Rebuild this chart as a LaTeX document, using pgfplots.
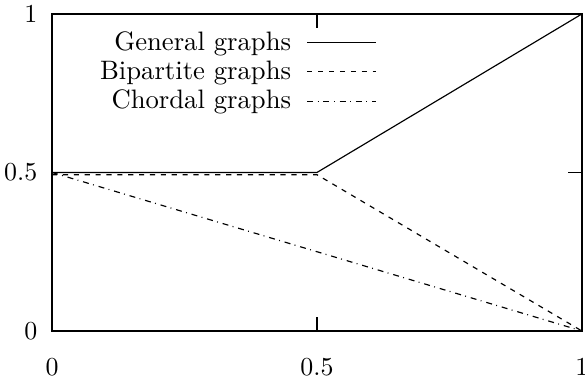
\documentclass[border=0pt]{standalone}
\usepackage{pgfplots}
\pgfplotsset{compat=1.18}
\begin{document}
\begin{tikzpicture}
\begin{axis}[
  scale only axis,
  width=204.6pt, height=122.4pt,
  xmin=0, xmax=1, ymin=0, ymax=1,
  xtick={0,0.5,1}, ytick={0,0.5,1},
  xticklabels={0,0.5,1}, yticklabels={0,0.5,1},
  tick align=inside,
  major tick length=5.4pt,
  axis line style={line width=0.6pt},
  every tick/.style={black, line width=0.5pt},
  xticklabel style={yshift=-7pt},
  yticklabel style={xshift=-2.2pt},
  legend style={draw=none, fill=none, at={(0.628,0.98)}, anchor=north east,
    legend cell align=right, row sep=-1.4pt, font=\fontsize{10.3pt}{12pt}\selectfont},
  legend plot pos=right,
  legend image code/.code={\path (0pt,0pt); \draw[#1] (4pt,0pt) -- (30.5pt,0pt);},
  clip=true,
]
\addplot[black, line width=0.45pt] coordinates {(0,0.5) (0.5,0.5) (1,1)};
\addlegendentry{General graphs}
\addplot[black, line width=0.45pt, dash pattern=on 2pt off 2.2pt] coordinates {(0,0.493) (0.5,0.493) (1,0)};
\addlegendentry{Bipartite graphs}
\addplot[black, line width=0.45pt, dash pattern=on 2.3pt off 1.7pt on 0.35pt off 1.9pt] coordinates {(0,0.5) (1,0)};
\addlegendentry{Chordal graphs}
\end{axis}
\pgfresetboundingbox
\path ([xshift=-20.1pt, yshift=-17.8pt]current axis.south west) rectangle ([xshift=1.2pt, yshift=5.4pt]current axis.north east);
\end{tikzpicture}
\end{document}
